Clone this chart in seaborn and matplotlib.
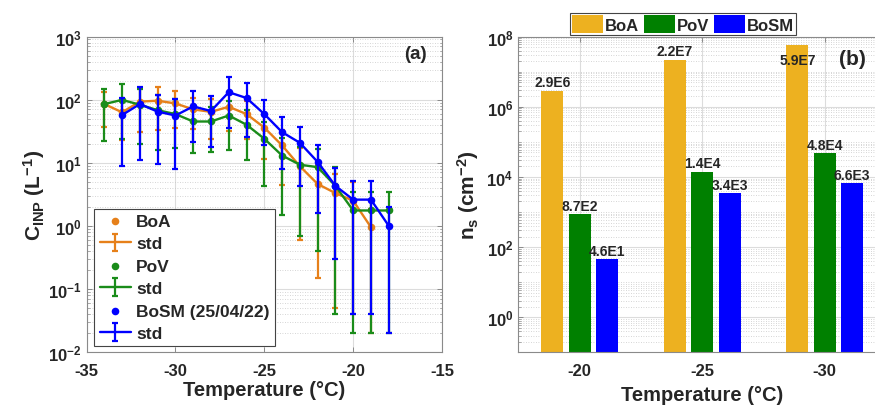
import numpy as np
import pandas as pd
import matplotlib
matplotlib.use("Agg")
import matplotlib.pyplot as plt
from matplotlib.ticker import LogLocator, LogFormatterMathtext, NullFormatter, FixedLocator
import seaborn as sns

# ---------------- (a) INP concentration vs temperature ----------------
boa_temp = list(range(-34, -18))          # -34 .. -19 degC
boa_conc = [85, 63, 93, 96, 87, 70, 64, 77, 59, 36, 18.8, 8.8, 4.6, 3.3, 2.5, 0.95]
boa_std = [48, 40, 62, 63, 51, 36, 40, 45, 35, 24.5, 14.3, 8.2, 4.45, 3.25, 2.46, 0.93]

pov_temp = list(range(-34, -17))          # -34 .. -18 degC
pov_conc = [85, 99, 83, 68, 59, 45, 45, 56, 40, 24, 13, 9.3, 8.5, 4.3, 1.75, 1.75, 1.75]
pov_std = [63, 75, 63, 52, 42, 31, 30, 40, 29, 19.7, 11.5, 8.6, 8.1, 4.26, 1.73, 1.73, 1.73]

bosm_temp = list(range(-33, -17))         # -33 .. -18 degC
bosm_conc = [57, 85, 64.5, 56, 78, 66, 131, 106, 59, 30.5, 20.7, 10.3, 4.3, 2.6, 2.6, 1.0]
bosm_std = [48, 74, 55, 48, 57, 48, 95, 80, 40, 22.5, 16.5, 8.7, 4.0, 2.56, 2.56, 0.98]

# ---------------- (b) surface site density ----------------
ns_temp_labels = ["-20", "-25", "-30"]
ns_boa = [2.9e6, 2.2e7, 5.9e7]
ns_pov = [8.7e2, 1.4e4, 4.8e4]
ns_bosm = [4.6e1, 3.4e3, 6.6e3]

line_colors = {"BoA": "#E6801A", "PoV": "#1A8C1A", "BoSM": "#0000FF"}
bar_colors = ["#EDB120", "#008000", "#0000FF"]

sns.set_style("ticks")
plt.rcParams.update({
    "font.family": ["Liberation Sans", "DejaVu Sans"],
    "font.weight": "bold",
    "axes.labelweight": "bold",
    "axes.unicode_minus": False,
    "mathtext.fontset": "custom",
    "mathtext.rm": "Liberation Sans:bold",
    "mathtext.it": "Liberation Sans:bold",
    "mathtext.bf": "Liberation Sans:bold",
    "mathtext.sf": "Liberation Sans:bold",
})

fig = plt.figure(figsize=(8.75, 4.06), dpi=100)
ax1 = fig.add_axes([0.0989, 0.1305, 0.4063, 0.7771])
ax2 = fig.add_axes([0.5924, 0.1298, 0.4202, 0.7773])

spine_col = "#8a8a8a"
grid_major = "#dcdcdc"
grid_minor = "#c8c8c8"


def style_log_axes(ax):
    for sp in ax.spines.values():
        sp.set_color(spine_col)
        sp.set_linewidth(0.8)
    ax.tick_params(which="both", direction="in", top=True, right=True,
                   color=spine_col, labelsize=12)
    ax.tick_params(which="major", length=3.5, width=0.7)
    ax.tick_params(axis="x", which="major", pad=8)
    ax.tick_params(which="minor", length=1.8, width=0.5)
    ax.grid(which="major", color=grid_major, lw=0.8)
    ax.grid(which="minor", axis="y", color=grid_minor, lw=0.6, ls=(0, (1, 2)))
    ax.set_axisbelow(True)


# ---- panel (a) ----
series = [
    ("BoA", boa_temp, boa_conc, boa_std, line_colors["BoA"]),
    ("PoV", pov_temp, pov_conc, pov_std, line_colors["PoV"]),
    ("BoSM (25/04/22)", bosm_temp, bosm_conc, bosm_std, line_colors["BoSM"]),
]
leg_handles, leg_labels = [], []
for k, (name, t, c, s, col) in enumerate(series):
    sns.scatterplot(x=t, y=c, color=col, s=30, linewidth=0,
                    ax=ax1, zorder=4 + 2 * k, legend=False)
    dots = ax1.collections[-1]
    eb = ax1.errorbar(t, c, yerr=s, color=col, lw=1.7, elinewidth=1.6,
                      capsize=2.3, capthick=1.6, zorder=3 + 2 * k)
    leg_handles += [dots, eb]
    leg_labels += [name, "std"]

ax1.set_yscale("log")
ax1.set_ylim(1e-2, 1e3)
ax1.set_xlim(-35, -15)
ax1.set_xticks(range(-35, -14, 5))
ax1.yaxis.set_major_locator(LogLocator(base=10, numticks=10))
ax1.yaxis.set_major_formatter(LogFormatterMathtext(base=10))
ax1.yaxis.set_minor_locator(LogLocator(base=10, subs=np.arange(2, 10), numticks=20))
ax1.yaxis.set_minor_formatter(NullFormatter())
style_log_axes(ax1)
ax1.set_xlabel("Temperature (°C)", fontsize=14.5, labelpad=1)
ax1.set_ylabel(r"C$_{INP}$ (L$^{-1}$)", fontsize=15, labelpad=1)
ax1.text(0.925, 0.945, "(a)", transform=ax1.transAxes, fontsize=13.5,
         fontweight="bold", ha="center", va="center")

leg1 = ax1.legend(leg_handles, leg_labels, loc="lower left",
                  bbox_to_anchor=(0.022, 0.018), borderaxespad=0, fontsize=12.5,
                  frameon=True, fancybox=False, edgecolor="#444444",
                  framealpha=1, handlelength=1.8, handletextpad=0.3,
                  labelspacing=0.42, borderpad=0.3)
leg1.get_frame().set_linewidth(0.8)

# ---- panel (b) ----
df = pd.DataFrame({
    "T": ns_temp_labels * 3,
    "site": ["BoA"] * 3 + ["PoV"] * 3 + ["BoSM"] * 3,
    "ns": ns_boa + ns_pov + ns_bosm,
})
sns.barplot(data=df, x="T", y="ns", hue="site", order=ns_temp_labels,
            hue_order=["BoA", "PoV", "BoSM"], palette=bar_colors, saturation=1,
            width=0.67, gap=0.2, errorbar=None, linewidth=0, ax=ax2)
ax2.set_yscale("log")
ax2.set_ylim(1e-1, 1e8)
ax2.set_xlim(-0.5, 2.5)
ax2.yaxis.set_major_locator(FixedLocator([1e0, 1e2, 1e4, 1e6, 1e8]))
ax2.yaxis.set_major_formatter(LogFormatterMathtext(base=10))
ax2.yaxis.set_minor_locator(LogLocator(base=10, subs=np.arange(1, 10), numticks=30))
ax2.yaxis.set_minor_formatter(NullFormatter())
style_log_axes(ax2)
ax2.set_xlabel("Temperature (°C)", fontsize=14.5, labelpad=5)
ax2.set_ylabel(r"n$_s$ (cm$^{-2}$)", fontsize=15, labelpad=4)


def sci_label(v):
    exp = int(np.floor(np.log10(v)))
    return f"{v / 10 ** exp:.1f}E{exp}"


for cont in ax2.containers:
    for bar in cont:
        v = bar.get_height()
        xc = bar.get_x() + bar.get_width() / 2
        if v > 3e7:
            ax2.annotate(sci_label(v), (xc, v), xytext=(0, -6),
                         textcoords="offset points", ha="center", va="top",
                         fontsize=10, fontweight="bold")
        else:
            ax2.annotate(sci_label(v), (xc, v), xytext=(0, 1),
                         textcoords="offset points", ha="center", va="bottom",
                         fontsize=10, fontweight="bold")

ax2.text(0.91, 0.93, "(b)", transform=ax2.transAxes, fontsize=15,
         fontweight="bold", ha="center", va="center")

h2, l2 = ax2.get_legend_handles_labels()
leg2 = ax2.legend(h2, l2, loc="lower center", bbox_to_anchor=(0.448, 1.004),
                  ncol=3, fontsize=12, frameon=True, fancybox=False,
                  edgecolor="#444444", framealpha=1, handlelength=1.85,
                  handleheight=1.3, handletextpad=0.12, columnspacing=0.3,
                  borderpad=0.12, borderaxespad=0)
leg2.get_frame().set_linewidth(0.8)

fig.savefig("out.png", dpi=100)
